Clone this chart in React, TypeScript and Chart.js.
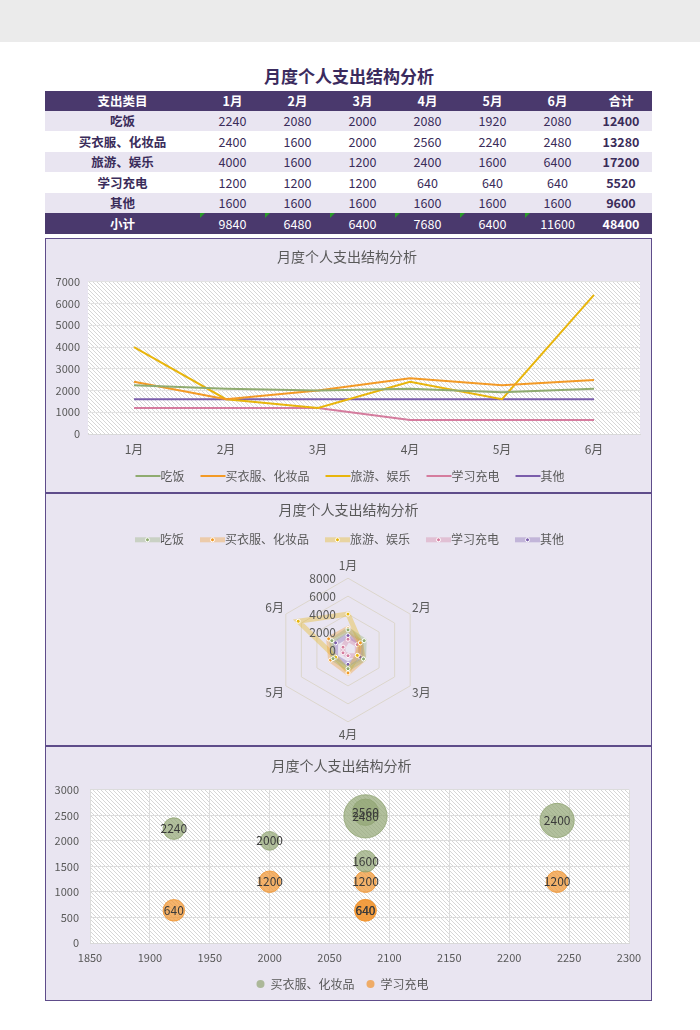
import React, { useEffect, useRef } from 'react';
import { Chart, registerables } from 'chart.js';
Chart.register(...registerables);

const FONT = '"Noto Sans CJK SC", "Noto Sans", sans-serif';

const months = ['1月', '2月', '3月', '4月', '5月', '6月'];
const categories = ['吃饭', '买衣服、化妆品', '旅游、娱乐', '学习充电', '其他'];
const eating = [2240, 2080, 2000, 2080, 1920, 2080];
const clothes = [2400, 1600, 2000, 2560, 2240, 2480];
const travel = [4000, 1600, 1200, 2400, 1600, 6400];
const study = [1200, 1200, 1200, 640, 640, 640];
const other = [1600, 1600, 1600, 1600, 1600, 1600];
const rowTotals = [12400, 13280, 17200, 5520, 9600];
const monthTotals = [9840, 6480, 6400, 7680, 6400, 11600];
const grandTotal = 48400;
const series = [eating, clothes, travel, study, other];

const chartTitle = '月度个人支出结构分析';
const lineYTicks = { min: 0, max: 7000, step: 1000 };
const radarTicks = [0, 2000, 4000, 6000, 8000];
const bubbleXTicks = { min: 1850, max: 2300, step: 50 };
const bubbleYTicks = { min: 0, max: 3000, step: 500 };

const colors = ['#8fab70', '#f39a26', '#e8b50c', '#d57c9e', '#7a5cab'];
const rgba = (hex: string, a: number) => {
  const n = parseInt(hex.slice(1), 16);
  return `rgba(${(n >> 16) & 255},${(n >> 8) & 255},${n & 255},${a})`;
};
const TEXT = '#595959';
const plain = (v: any) => String(v);

function hatchPattern(ctx: CanvasRenderingContext2D) {
  const s = 4;
  const c = document.createElement('canvas');
  c.width = s; c.height = s;
  const g = c.getContext('2d')!;
  g.fillStyle = '#ffffff';
  g.fillRect(0, 0, s, s);
  g.strokeStyle = '#d6d6d6';
  g.lineWidth = 1;
  g.beginPath();
  g.moveTo(-1, -1); g.lineTo(s + 1, s + 1);
  g.moveTo(-1, s - 1); g.lineTo(1, s + 1);
  g.moveTo(s - 1, -1); g.lineTo(s + 1, 1);
  g.stroke();
  return ctx.createPattern(c, 'repeat')!;
}

const hatchPlugin = {
  id: 'hatch',
  beforeDraw(chart: any) {
    const { ctx, chartArea: a } = chart;
    ctx.save();
    ctx.fillStyle = hatchPattern(ctx);
    ctx.fillRect(a.left, a.top, a.right - a.left, a.bottom - a.top);
    ctx.restore();
  },
};

const radarTextPlugin = {
  id: 'radarText',
  afterDatasetsDraw(chart: any) {
    const r = chart.scales.r;
    const ctx = chart.ctx;
    ctx.save();
    ctx.font = `12px ${FONT}`;
    ctx.fillStyle = TEXT;
    ctx.textAlign = 'right';
    ctx.textBaseline = 'middle';
    radarTicks.forEach((v) => {
      const d = r.getDistanceFromCenterForValue(v);
      ctx.fillText(String(v), r.xCenter - 12, r.yCenter - d);
    });
    ctx.textAlign = 'center';
    months.forEach((m, i) => {
      const p = r.getPointPosition(i, r.drawingArea + 13);
      ctx.fillText(m, p.x, p.y);
    });
    ctx.restore();
  },
};

const hideBoxes = (chart: any) =>
  Chart.defaults.plugins.legend.labels
    .generateLabels(chart)
    .map((l: any) => ({ ...l, lineWidth: 0, fillStyle: 'rgba(0,0,0,0)', strokeStyle: 'rgba(0,0,0,0)' }));

function legendLinePlugin(offset: number, width: number, alpha: number, dot: boolean) {
  return {
    id: 'legendLines',
    afterDraw(chart: any) {
      const lg = chart.legend;
      if (!lg || !lg.legendHitBoxes) return;
      const ctx = chart.ctx;
      ctx.save();
      lg.legendHitBoxes.forEach((hb: any, i: number) => {
        const y = hb.top + hb.height / 2;
        ctx.beginPath();
        ctx.moveTo(hb.left + offset, y);
        ctx.lineTo(hb.left + offset + 25, y);
        ctx.strokeStyle = rgba(colors[i], alpha);
        ctx.lineWidth = width;
        ctx.stroke();
        if (dot) {
          ctx.beginPath();
          ctx.arc(hb.left + offset + 12.5, y, 2, 0, Math.PI * 2);
          ctx.fillStyle = colors[i];
          ctx.fill();
          ctx.lineWidth = 1;
          ctx.strokeStyle = '#ffffff';
          ctx.stroke();
        }
      });
      ctx.restore();
    },
  };
}

const bubbleFill = ['rgba(145,165,115,0.7)', 'rgba(241,150,50,0.72)'];
const bubbleLegendPlugin = {
  id: 'bubbleLegend',
  afterDraw(chart: any) {
    const lg = chart.legend;
    if (!lg || !lg.legendHitBoxes) return;
    const ctx = chart.ctx;
    ctx.save();
    lg.legendHitBoxes.forEach((hb: any, i: number) => {
      ctx.beginPath();
      ctx.arc(hb.left + 6, hb.top + hb.height / 2, 4, 0, Math.PI * 2);
      ctx.fillStyle = bubbleFill[i];
      ctx.fill();
    });
    ctx.restore();
  },
};

const bubbleLabelPlugin = {
  id: 'bubbleLabels',
  afterDatasetsDraw(chart: any) {
    const ctx = chart.ctx;
    ctx.save();
    ctx.font = `12px ${FONT}`;
    ctx.fillStyle = '#3a3a3a';
    ctx.textAlign = 'center';
    ctx.textBaseline = 'middle';
    chart.data.datasets.forEach((ds: any, di: number) => {
      const meta = chart.getDatasetMeta(di);
      meta.data.forEach((el: any, i: number) => {
        ctx.fillText(String(ds.data[i].y), el.x, el.y);
      });
    });
    ctx.restore();
  },
};

const titleOpts = (top: number, bottom: number) => ({
  display: true,
  text: chartTitle,
  color: TEXT,
  font: { size: 14, family: FONT, weight: 'normal' as const },
  padding: { top, bottom },
});

function lineConfig(): any {
  return {
    type: 'line',
    data: {
      labels: months,
      datasets: categories.map((c, i) => ({
        label: c,
        data: series[i],
        borderColor: colors[i],
        backgroundColor: colors[i],
        borderWidth: 2,
        pointRadius: 0,
        tension: 0,
      })),
    },
    options: {
      animation: false,
      responsive: false,
      layout: { autoPadding: false, padding: { left: 8, right: 11, top: 0, bottom: 0 } },
      plugins: {
        title: titleOpts(9, 17),
        legend: {
          position: 'bottom',
          labels: {
            boxWidth: 25,
            boxHeight: 4,
            color: TEXT,
            font: { size: 12, family: FONT },
            padding: 10,
            generateLabels: hideBoxes,
          },
        },
        tooltip: { enabled: false },
      },
      scales: {
        x: {
          offset: true,
          grid: { display: false, drawTicks: false },
          border: { color: '#d9d9d9' },
          ticks: { color: TEXT, font: { size: 12, family: FONT }, padding: 8 },
          afterFit: (s: any) => { s.height = 26; },
        },
        y: {
          min: lineYTicks.min,
          max: lineYTicks.max,
          ticks: { stepSize: lineYTicks.step, color: TEXT, font: { size: 11, family: FONT }, padding: 8, callback: plain },
          grid: { color: '#e3e3e3', drawTicks: false },
          border: { display: false },
          afterFit: (s: any) => { s.width = 34; },
        },
      },
    },
    plugins: [hatchPlugin, legendLinePlugin(6, 2, 1, false)],
  };
}

function radarConfig(): any {
  return {
    type: 'radar',
    data: {
      labels: months,
      datasets: categories.map((c, i) => ({
        label: c,
        data: series[i],
        borderColor: rgba(colors[i], 0.35),
        backgroundColor: rgba(colors[i], 0.35),
        borderWidth: 5,
        pointRadius: 2,
        pointBackgroundColor: colors[i],
        pointBorderColor: '#ffffff',
        pointBorderWidth: 1,
        fill: false,
      })),
    },
    options: {
      animation: false,
      responsive: false,
      layout: { autoPadding: false, padding: { left: 0, right: 0, top: 0, bottom: 0 } },
      plugins: {
        title: titleOpts(7, 2),
        legend: {
          position: 'top',
          labels: {
            boxWidth: 21,
            boxHeight: 5,
            color: TEXT,
            font: { size: 12, family: FONT },
            padding: 14,
            generateLabels: hideBoxes,
          },
        },
        tooltip: { enabled: false },
      },
      scales: {
        r: {
          min: radarTicks[0],
          max: radarTicks[radarTicks.length - 1],
          ticks: { stepSize: radarTicks[1] - radarTicks[0], display: false },
          grid: { color: '#dcd6cc' },
          angleLines: { display: false },
          pointLabels: { color: 'rgba(0,0,0,0)', padding: 8, font: { size: 12, family: FONT } },
        },
      },
    },
    plugins: [radarTextPlugin, legendLinePlugin(2, 5, 0.35, true)],
  };
}

const bubbleK = 0.27;
function bubbleConfig(): any {
  return {
    type: 'bubble',
    data: {
      datasets: [
        {
          label: categories[1],
          data: eating.map((x, i) => ({ x, y: clothes[i], r: Math.sqrt(travel[i]) * bubbleK })),
          backgroundColor: bubbleFill[0],
          borderColor: 'rgba(145,165,115,0.8)',
          borderWidth: 1,
        },
        {
          label: categories[3],
          data: eating.map((x, i) => ({ x, y: study[i], r: Math.sqrt(other[i]) * bubbleK })),
          backgroundColor: bubbleFill[1],
          borderColor: 'rgba(241,150,50,0.8)',
          borderWidth: 1,
        },
      ],
    },
    options: {
      animation: false,
      responsive: false,
      layout: { autoPadding: false, padding: { left: 8, right: 22, top: 0, bottom: 0 } },
      plugins: {
        title: titleOpts(10, 16),
        legend: {
          position: 'bottom',
          labels: {
            boxWidth: 10,
            boxHeight: 6,
            color: TEXT,
            font: { size: 12, family: FONT },
            padding: 10,
            generateLabels: hideBoxes,
          },
        },
        tooltip: { enabled: false },
      },
      scales: {
        x: {
          type: 'linear',
          min: bubbleXTicks.min,
          max: bubbleXTicks.max,
          ticks: { stepSize: bubbleXTicks.step, color: TEXT, font: { size: 11, family: FONT }, padding: 8, callback: plain },
          grid: { color: '#dcdcdc', drawTicks: false },
          border: { color: '#d9d9d9' },
          afterFit: (s: any) => { s.height = 25; },
        },
        y: {
          min: bubbleYTicks.min,
          max: bubbleYTicks.max,
          ticks: { stepSize: bubbleYTicks.step, color: TEXT, font: { size: 11, family: FONT }, padding: 11, callback: plain },
          grid: { color: '#dcdcdc', drawTicks: false },
          border: { display: false },
          afterFit: (s: any) => { s.width = 36; },
        },
      },
    },
    plugins: [hatchPlugin, bubbleLabelPlugin, bubbleLegendPlugin],
  };
}

function ChartBox({ top, height, config }: { top: number; height: number; config: () => any }) {
  const ref = useRef<HTMLCanvasElement>(null);
  useEffect(() => {
    const chart = new Chart(ref.current!, config());
    return () => chart.destroy();
  }, []);
  return (
    <div
      style={{
        position: 'absolute',
        left: 45,
        top,
        width: 607,
        height,
        boxSizing: 'border-box',
        border: '1px solid #5e4c8a',
        background: '#e9e5f1',
      }}
    >
      <canvas ref={ref} width={605} height={height - 2} style={{ display: 'block', width: 605, height: height - 2 }} />
    </div>
  );
}

const colWidths = [155, 65, 65, 65, 65, 65, 65, 62];
const HEAD_BG = '#4a396d';
const LAV = '#e9e5f1';
const DARK = '#3a2c5a';

function Row({ top, height, cells, bg, color, boldCols, triangles }: any) {
  return (
    <div style={{ position: 'absolute', left: 45, top, height, width: 607, display: 'flex', background: bg }}>
      {cells.map((c: any, i: number) => (
        <div
          key={i}
          style={{
            width: colWidths[i],
            height,
            lineHeight: height + 'px',
            textAlign: 'center',
            color,
            fontWeight: boldCols.includes(i) ? 'bold' : 'normal',
            fontSize: 12.5,
            position: 'relative',
          }}
        >
          {triangles && i >= 1 && i <= 6 ? (
            <div
              style={{
                position: 'absolute',
                left: 0,
                top: 0,
                width: 0,
                height: 0,
                borderTop: '5px solid #2a9a2a',
                borderRight: '5px solid transparent',
              }}
            />
          ) : null}
          {c}
        </div>
      ))}
    </div>
  );
}

export default function App() {
  const rowTops = [111, 131, 152, 172, 193];
  const rowHeights = [20, 21, 20, 21, 20];
  return (
    <div
      style={{
        position: 'absolute',
        left: 0,
        top: 0,
        width: 700,
        height: 1030,
        background: '#ffffff',
        fontFamily: FONT,
        overflow: 'hidden',
      }}
    >
      <div style={{ position: 'absolute', left: 0, top: 0, width: 700, height: 42, background: '#ebebeb' }} />
      <div
        style={{
          position: 'absolute',
          left: 0,
          top: 64,
          width: 698,
          textAlign: 'center',
          fontSize: 17,
          fontWeight: 'bold',
          color: '#3b2b5e',
          lineHeight: '24px',
        }}
      >
        {chartTitle}
      </div>
      <Row top={91} height={20} cells={['支出类目', ...months, '合计']} bg={HEAD_BG} color="#ffffff" boldCols={[0, 1, 2, 3, 4, 5, 6, 7]} />
      {categories.map((c, r) => (
        <Row
          key={c}
          top={rowTops[r]}
          height={rowHeights[r]}
          cells={[c, ...series[r], rowTotals[r]]}
          bg={r % 2 === 0 ? LAV : '#ffffff'}
          color={DARK}
          boldCols={[0, 7]}
        />
      ))}
      <Row top={213} height={21} cells={['小计', ...monthTotals, grandTotal]} bg={HEAD_BG} color="#ffffff" boldCols={[0, 7]} triangles />
      <ChartBox top={238} height={255} config={lineConfig} />
      <ChartBox top={493} height={253} config={radarConfig} />
      <ChartBox top={746} height={255} config={bubbleConfig} />
    </div>
  );
}
